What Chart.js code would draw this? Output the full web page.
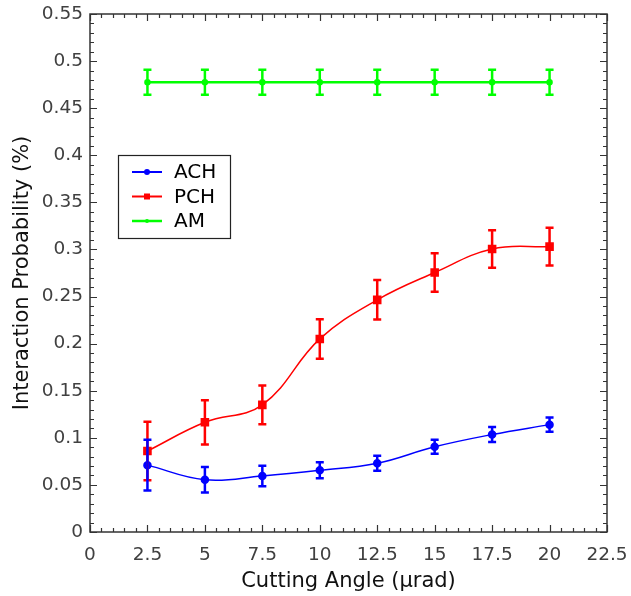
<!DOCTYPE html>
<html>
<head>
<meta charset="utf-8">
<script src="https://cdn.jsdelivr.net/npm/chart.js@4.4.1/dist/chart.umd.min.js"></script>
<style>
  html, body { margin: 0; padding: 0; background: #fff; }
  #wrap { width: 631px; height: 596px; }
</style>
</head>
<body>
<div id="wrap"><canvas id="chart" width="631" height="596"></canvas></div>
<script>
const angles = [2.5, 5, 7.5, 10, 12.5, 15, 17.5, 20];

const achValues = [0.071, 0.0555, 0.0595, 0.0655, 0.073, 0.0905, 0.1035, 0.114];
const achErrors = [0.027, 0.0135, 0.0108, 0.0085, 0.008, 0.0075, 0.008, 0.0076];

const pchValues = [0.086, 0.1165, 0.135, 0.205, 0.2465, 0.2755, 0.3005, 0.303];
const pchErrors = [0.031, 0.0235, 0.0205, 0.021, 0.021, 0.0205, 0.02, 0.02];

const amValues = [0.4775, 0.4775, 0.4775, 0.4775, 0.4775, 0.4775, 0.4775, 0.4775];
const amErrors = [0.0133, 0.0133, 0.0133, 0.0133, 0.0133, 0.0133, 0.0133, 0.0133];

const seriesNames = ["ACH", "PCH", "AM"];
const seriesColors = ["#0000ff", "#ff0000", "#00ff00"];

const xMin = 0, xMax = 22.5, xStep = 2.5, xMinorStep = 0.5;
const yMin = 0, yMax = 0.55, yStep = 0.05, yMinorStep = 0.01;

const FONT = "DejaVu Sans";

function points(values) {
    return angles.map((a, i) => ({ x: a, y: values[i] }));
}

const errorLists = [achErrors, pchErrors, amErrors];

// error bars with caps
const errorBars = {
    id: "errorBars",
    afterDatasetsDraw(chart) {
        const ctx = chart.ctx;
        const yScale = chart.scales.y;
        for (let d = chart.data.datasets.length - 1; d >= 0; d--) {
            const ds = chart.data.datasets[d];
            const meta = chart.getDatasetMeta(d);
            const errs = errorLists[d];
            ctx.save();
            ctx.strokeStyle = ds.borderColor;
            ctx.lineWidth = 2.5;
            meta.data.forEach((pt, i) => {
                const v = ds.data[i].y;
                const top = yScale.getPixelForValue(v + errs[i]);
                const bot = yScale.getPixelForValue(v - errs[i]);
                ctx.beginPath();
                ctx.moveTo(pt.x, top);
                ctx.lineTo(pt.x, bot);
                ctx.moveTo(pt.x - 4, top);
                ctx.lineTo(pt.x + 4, top);
                ctx.moveTo(pt.x - 4, bot);
                ctx.lineTo(pt.x + 4, bot);
                ctx.stroke();
            });
            ctx.restore();
        }
    }
};

// frame with inward ticks on all four sides
const frame = {
    id: "frame",
    afterDraw(chart) {
        const ctx = chart.ctx;
        const a = chart.chartArea;
        const xs = chart.scales.x, ys = chart.scales.y;
        ctx.save();
        ctx.strokeStyle = "#333333";
        ctx.lineWidth = 1.5;
        ctx.strokeRect(a.left, a.top, a.right - a.left, a.bottom - a.top);
        ctx.lineWidth = 1.2;
        ctx.beginPath();
        const nx = Math.round((xMax - xMin) / xMinorStep);
        for (let i = 0; i <= nx; i++) {
            const v = xMin + i * xMinorStep;
            const px = Math.round(xs.getPixelForValue(v)) + 0.5;
            const len = (i % Math.round(xStep / xMinorStep) === 0) ? 7 : 4;
            ctx.moveTo(px, a.bottom); ctx.lineTo(px, a.bottom - len);
            ctx.moveTo(px, a.top); ctx.lineTo(px, a.top + len);
        }
        const ny = Math.round((yMax - yMin) / yMinorStep);
        for (let i = 0; i <= ny; i++) {
            const v = yMin + i * yMinorStep;
            const py = Math.round(ys.getPixelForValue(v)) + 0.5;
            const len = (i % Math.round(yStep / yMinorStep) === 0) ? 7 : 4;
            ctx.moveTo(a.left, py); ctx.lineTo(a.left + len, py);
            ctx.moveTo(a.right, py); ctx.lineTo(a.right - len, py);
        }
        ctx.stroke();
        ctx.restore();
    }
};

// legend box inside the plot
const boxLegend = {
    id: "boxLegend",
    afterDraw(chart) {
        const ctx = chart.ctx;
        const x0 = 118, y0 = 155, w = 112, h = 83;
        ctx.save();
        ctx.fillStyle = "#fff";
        ctx.fillRect(x0, y0, w, h);
        ctx.strokeStyle = "#222";
        ctx.lineWidth = 1.2;
        ctx.strokeRect(x0 + 0.5, y0 + 0.5, w, h);
        ctx.font = "20px '" + FONT + "'";
        ctx.textBaseline = "middle";
        seriesNames.forEach((name, i) => {
            const cy = y0 + 17 + i * 24.5;
            ctx.strokeStyle = seriesColors[i];
            ctx.fillStyle = seriesColors[i];
            ctx.lineWidth = i === 2 ? 2.5 : 2;
            ctx.beginPath();
            ctx.moveTo(x0 + 14, cy);
            ctx.lineTo(x0 + 44, cy);
            ctx.stroke();
            if (i === 0) {
                ctx.beginPath(); ctx.arc(x0 + 29, cy, 3, 0, Math.PI * 2); ctx.fill();
            } else if (i === 1) {
                ctx.fillRect(x0 + 26, cy - 3, 6, 6);
            } else {
                ctx.beginPath(); ctx.arc(x0 + 29, cy, 2, 0, Math.PI * 2); ctx.fill();
            }
            ctx.fillStyle = "#000";
            ctx.fillText(name, x0 + 56, cy + 1);
        });
        ctx.restore();
    }
};

const datasets = [
    { label: "ACH", data: points(achValues), borderColor: seriesColors[0], backgroundColor: seriesColors[0],
      borderWidth: 1.5, pointStyle: "circle", pointRadius: 3.5, tension: 0.4 },
    { label: "PCH", data: points(pchValues), borderColor: seriesColors[1], backgroundColor: seriesColors[1],
      borderWidth: 1.5, pointStyle: "rect", pointRadius: 5, tension: 0.4 },
    { label: "AM", data: points(amValues), borderColor: seriesColors[2], backgroundColor: seriesColors[2],
      borderWidth: 2.5, pointStyle: "circle", pointRadius: 2, tension: 0.4 }
];

new Chart(document.getElementById("chart").getContext("2d"), {
    type: "line",
    data: { datasets: datasets },
    options: {
        responsive: false,
        animation: false,
        layout: { padding: { left: 0, right: 24, top: 14, bottom: 0 } },
        plugins: { legend: { display: false }, tooltip: { enabled: false } },
        elements: { point: { borderWidth: 0 } },
        scales: {
            x: {
                type: "linear",
                min: xMin, max: xMax,
                ticks: {
                    stepSize: xStep,
                    padding: 12,
                    color: "#404040",
                    font: { family: FONT, size: 18.5 },
                    callback: v => String(v)
                },
                grid: { display: false, drawTicks: false, tickLength: 0 },
                border: { display: false },
                title: {
                    display: true, text: "Cutting Angle (\u03bcrad)", color: "#111",
                    font: { family: FONT, size: 21 }, padding: { top: 4, bottom: 2 }
                },
                afterFit(scale) {
                    scale.height = 64;
                    scale.paddingLeft = 0;
                    scale.paddingRight = 0;
                }
            },
            y: {
                min: yMin, max: yMax,
                ticks: {
                    stepSize: yStep,
                    padding: 7,
                    color: "#404040",
                    font: { family: FONT, size: 18.5 },
                    callback: v => String(parseFloat(v.toFixed(2)))
                },
                grid: { display: false, drawTicks: false, tickLength: 0 },
                border: { display: false },
                title: {
                    display: true, text: "Interaction Probability (%)", color: "#111",
                    font: { family: FONT, size: 21 }, padding: { top: 10, bottom: 6 }
                },
                afterFit(scale) {
                    scale.width = 90;
                    scale.paddingTop = 0;
                    scale.paddingBottom = 0;
                }
            }
        }
    },
    plugins: [errorBars, frame, boxLegend]
});
</script>
</body>
</html>
